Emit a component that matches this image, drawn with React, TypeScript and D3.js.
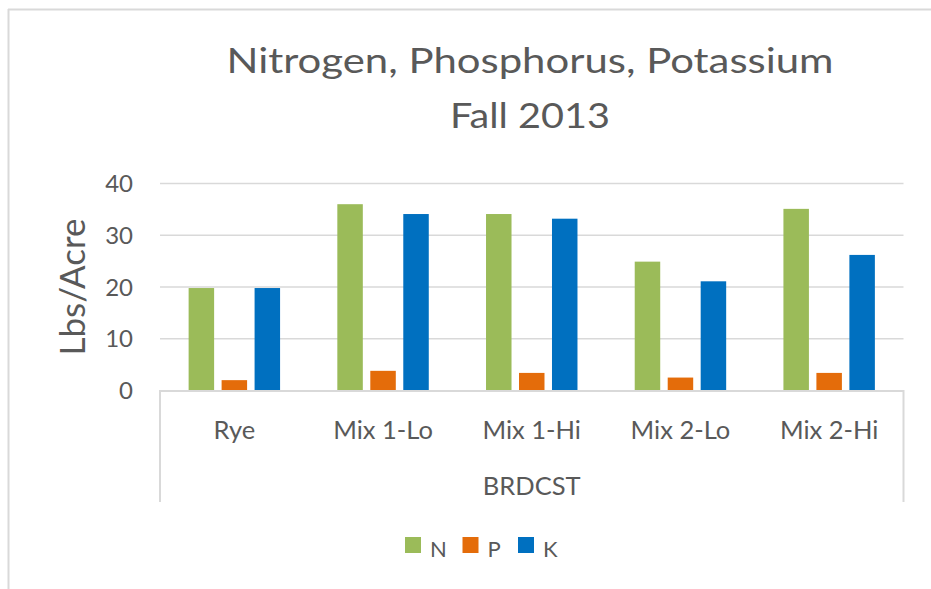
import React from "react";
import * as d3 from "d3";

const categories = ["Rye", "Mix 1-Lo", "Mix 1-Hi", "Mix 2-Lo", "Mix 2-Hi"];
const seriesNames = ["N", "P", "K"];
const nValues = [19.8, 36.0, 34.1, 24.9, 35.1];
const pValues = [2.0, 3.8, 3.4, 2.5, 3.4];
const kValues = [19.8, 34.1, 33.2, 21.1, 26.2];
const seriesColors = ["#9BBB59", "#E46C0A", "#0070C0"];
const yTicks = [0, 10, 20, 30, 40];
const titleLines = ["Nitrogen, Phosphorus, Potassium", "Fall 2013"];
const yTitle = "Lbs/Acre";
const groupLabel = "BRDCST";

const W = 931;
const H = 589;
const FONT = "Lato, 'Open Sans', sans-serif";
const TEXT = "#595959";
const GRID = "#d9d9d9";

export default function App() {
  const plotL = 160;
  const plotR = 903.5;
  const y = d3.scaleLinear().domain([0, 40]).range([390.5, 183.5]);
  const x = d3
    .scaleBand<string>()
    .domain(categories)
    .range([plotL, plotR])
    .paddingInner(0.385)
    .paddingOuter(0.1925);
  const xs = d3
    .scaleBand<string>()
    .domain(seriesNames)
    .range([0, x.bandwidth()])
    .paddingInner(0.227)
    .paddingOuter(0);
  const values = [nValues, pValues, kValues];

  const legendX = [405, 462.5, 518];
  const titleWidths = [607, 160];

  return (
    <svg
      width={W}
      height={H}
      style={{ position: "absolute", left: 0, top: 0, background: "#fff" }}
      fontFamily={FONT}
    >
      <rect x={0} y={0} width={W} height={H} fill="#fff" />
      {/* chart border */}
      <line x1={8.5} x2={8.5} y1={9} y2={H} stroke={GRID} strokeWidth={2} />
      <line x1={8} x2={W} y1={9.5} y2={9.5} stroke={GRID} strokeWidth={2} />

      {/* title */}
      {titleLines.map((t, i) => (
        <text
          key={t}
          x={530}
          y={72.7 + i * 55.3}
          textAnchor="middle"
          fontSize={35}
          fill={TEXT}
          textLength={titleWidths[i]}
          lengthAdjust="spacingAndGlyphs"
        >
          {t}
        </text>
      ))}

      {/* gridlines */}
      {yTicks.slice(1).map((t) => (
        <line
          key={t}
          x1={plotL}
          x2={plotR}
          y1={y(t)}
          y2={y(t)}
          stroke={GRID}
          strokeWidth={1.5}
        />
      ))}

      {/* y tick labels */}
      {yTicks.map((t) => (
        <text
          key={t}
          x={133}
          y={y(t)}
          dy="0.36em"
          textAnchor="end"
          fontSize={24}
          fill={TEXT}
        >
          {t}
        </text>
      ))}

      {/* y title */}
      <text
        transform={`translate(85,287) rotate(-90)`}
        textAnchor="middle"
        fontSize={35}
        fill={TEXT}
      >
        {yTitle}
      </text>

      {/* bars */}
      {categories.map((c, ci) =>
        seriesNames.map((s, si) => (
          <rect
            key={c + s}
            x={(x(c) ?? 0) + (xs(s) ?? 0)}
            y={y(values[si][ci])}
            width={xs.bandwidth()}
            height={y(0) - y(values[si][ci])}
            fill={seriesColors[si]}
          />
        ))
      )}

      {/* x axis */}
      <line x1={plotL} x2={plotR} y1={391} y2={391} stroke={GRID} strokeWidth={2} />
      <line x1={plotL} x2={plotL} y1={390} y2={502} stroke={GRID} strokeWidth={2} />
      <line x1={plotR} x2={plotR} y1={390} y2={502} stroke={GRID} strokeWidth={2} />

      {categories.map((c) => (
        <text
          key={c}
          x={(x(c) ?? 0) + x.bandwidth() / 2}
          y={439}
          textAnchor="middle"
          fontSize={25.5}
          fill={TEXT}
        >
          {c}
        </text>
      ))}
      <text x={(plotL + plotR) / 2} y={495} textAnchor="middle" fontSize={25.5} fill={TEXT}>
        {groupLabel}
      </text>

      {/* legend */}
      {seriesNames.map((s, i) => (
        <g key={s}>
          <rect x={legendX[i]} y={537} width={16} height={16} fill={seriesColors[i]} />
          <text x={legendX[i] + 25} y={556.5} fontSize={22} fill={TEXT}>
            {s}
          </text>
        </g>
      ))}
    </svg>
  );
}
